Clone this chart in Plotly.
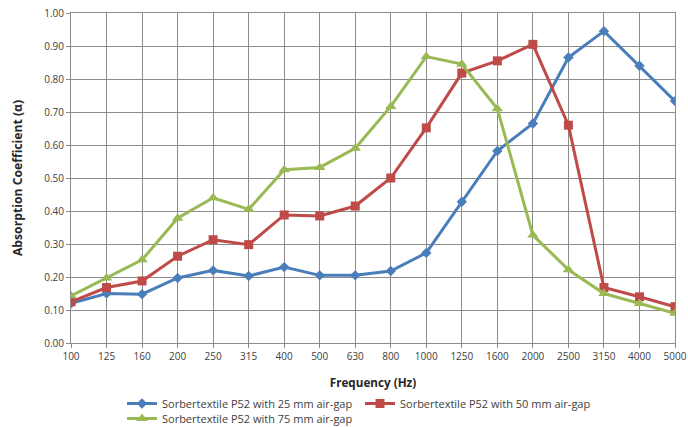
import plotly.graph_objects as go

freqs = ["100", "125", "160", "200", "250", "315", "400", "500", "630", "800",
         "1000", "1250", "1600", "2000", "2500", "3150", "4000", "5000"]

gap25 = [0.120, 0.150, 0.148, 0.197, 0.220, 0.203, 0.230, 0.205, 0.205, 0.218,
         0.273, 0.428, 0.582, 0.665, 0.865, 0.945, 0.840, 0.733]
gap50 = [0.125, 0.168, 0.188, 0.263, 0.313, 0.298, 0.388, 0.385, 0.415, 0.500,
         0.652, 0.818, 0.855, 0.905, 0.660, 0.168, 0.140, 0.110]
gap75 = [0.143, 0.197, 0.252, 0.378, 0.440, 0.405, 0.525, 0.532, 0.590, 0.717,
         0.868, 0.845, 0.710, 0.327, 0.222, 0.150, 0.120, 0.090]

names = ["Sorbertextile P52 with 25 mm air-gap",
         "Sorbertextile P52 with 50 mm air-gap",
         "Sorbertextile P52 with 75 mm air-gap"]
colors = ["#4A7EBB", "#BE4B48", "#98B954"]
symbols = ["diamond", "square", "triangle-up"]
sizes = [8, 9, 10]
legends = ["legend", "legend", "legend2"]

fig = go.Figure()
for vals, name, col, sym, sz, lg in zip([gap25, gap50, gap75], names, colors, symbols, sizes, legends):
    fig.add_trace(go.Scatter(
        x=freqs, y=vals, name=name, mode="lines+markers",
        line=dict(color=col, width=3),
        marker=dict(symbol=sym, size=sz, color=col),
        legend=lg,
    ))

font = "Open Sans, Liberation Sans, sans-serif"
leg_common = dict(orientation="h", x=(122 - 71) / 604, xanchor="left", yanchor="middle",
                  entrywidth=193, entrywidthmode="pixels", itemwidth=30,
                  font=dict(size=11, color="#404040"), tracegroupgap=0,
                  traceorder="normal", borderwidth=0, bgcolor="rgba(0,0,0,0)")
fig.update_layout(
    width=688, height=427,
    margin=dict(l=71, r=13, t=13, b=84, autoexpand=False),
    paper_bgcolor="white", plot_bgcolor="white",
    font=dict(family=font, size=10, color="#404040"),
    showlegend=True,
    legend=dict(leg_common, y=-(403.5 - 343) / 330),
    legend2=dict(leg_common, y=-(418.5 - 343) / 330),
    xaxis=dict(
        type="category", range=[0, 17], automargin=False,
        showgrid=True, gridcolor="#8C8C8C", gridwidth=1,
        showline=True, linecolor="#8C8C8C", mirror=True,
        ticks="outside", ticklen=4, tickcolor="#8C8C8C",
        tickfont=dict(size=10, color="#404040"),
        title=dict(text="<b>Frequency (Hz)</b>", font=dict(size=11.7, color="#262626"), standoff=16),
    ),
    yaxis=dict(
        range=[0, 1.0], dtick=0.1, tickformat=".2f", automargin=False,
        showgrid=True, gridcolor="#8C8C8C", gridwidth=1,
        showline=True, linecolor="#8C8C8C", mirror=True,
        ticks="outside", ticklen=4, tickcolor="#8C8C8C",
        tickfont=dict(size=10, color="#404040"),
        zeroline=False,
        title=dict(text="<b>Absorption Coefficient (α)</b>", font=dict(size=12.2, color="#262626"), standoff=18),
    ),
)

fig.write_html("out.html", config={"displayModeBar": False},
               post_script="document.body.style.margin='0';")
